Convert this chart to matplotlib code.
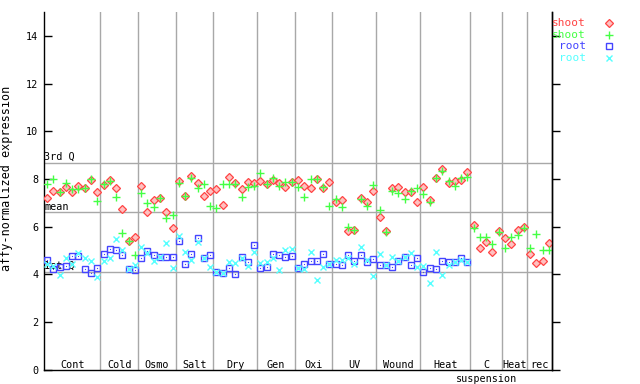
import numpy as np
import matplotlib
matplotlib.use("Agg")
import matplotlib.pyplot as plt
from matplotlib.lines import Line2D

nan = np.nan

groups = ["Cont", "Cold", "Osmo", "Salt", "Dry", "Gen", "Oxi", "UV", "Wound",
          "Heat", "C\nsuspension", "Heat", "rec"]
group_sizes = [9, 6, 6, 6, 7, 6, 6, 7, 7, 8, 5, 4, 4]

shoot_red = [7.19, 7.50, 7.44, 7.68, 7.44, 7.72, 7.61, 7.96, 7.44,
             7.75, 7.96, 7.61, 6.74, 5.40, 5.55,
             7.72, 6.60, 7.12, 7.19, 6.63, 5.93,
             7.92, 7.30, 8.14, 7.82, 7.30, 7.50,
             7.58, 6.91, 8.07, 7.82, 7.58, 7.86, 7.82,
             7.92, 7.78, 7.96, 7.82, 7.68, 7.86,
             7.96, 7.72, 7.64, 7.99, 7.61, 7.86,
             7.02, 7.12, 5.82, 5.86, 7.22, 7.02, 7.48,
             6.40, 5.82, 7.61, 7.65, 7.44, 7.46, 7.02,
             7.65, 7.12, 8.03, 8.40, 7.82, 7.92, 7.96, 8.28,
             6.07, 5.09, 5.34, 4.92, 5.82,
             5.51, 5.26, 5.86, 6.00,
             4.84, 4.46, 4.56, 5.30]

shoot_green = [7.78, 8.00, 7.44, 7.82, 7.58, 7.58, 7.61, 7.99, 7.08,
               7.78, 7.92, 7.26, 5.72, 5.40, 4.81,
               7.40, 6.98, 6.81, 7.19, 6.35, 6.49,
               7.82, 7.30, 8.06, 7.61, 7.78, 6.88,
               6.77, 7.78, 7.78, 7.78, 7.26, 7.68, 7.72,
               8.24, 7.78, 8.03, 7.72, 7.86, 7.86,
               7.68, 7.26, 7.99, 8.00, 7.68, 6.86,
               7.16, 6.81, 6.00, 5.86, 7.15, 6.87, 7.75,
               6.70, 5.76, 7.48, 7.40, 7.16, 7.50, 7.61,
               7.36, 7.04, 8.03, 8.34, 7.90, 7.72, 8.03, 8.07,
               5.96, 5.55, 5.55, 5.26, 5.76,
               5.12, 5.55, 5.65, 5.93,
               5.09, 5.68, 5.02, 5.02]

root_blue = [4.60, 4.22, 4.30, 4.35, 4.77, 4.77, 4.23, 4.04, 4.25,
             4.85, 5.05, 5.02, 4.81, 4.23, 4.18,
             4.67, 4.98, 4.81, 4.74, 4.74, 4.74,
             5.40, 4.43, 4.84, 5.51, 4.70, 4.81,
             4.11, 4.07, 4.25, 4.00, 4.71, 4.50, 5.23,
             4.25, 4.29, 4.84, 4.81, 4.71, 4.77,
             4.25, 4.43, 4.56, 4.56, 4.85, 4.43,
             4.43, 4.39, 4.81, 4.56, 4.81, 4.50, 4.64,
             4.39, 4.37, 4.32, 4.56, 4.74, 4.39, 4.67,
             4.08, 4.25, 4.21, 4.56, 4.50, 4.50, 4.67, 4.53,
             nan, nan, nan, nan, nan,
             nan, nan, nan, nan,
             nan, nan, nan, nan]

root_cyan = [4.45, 4.35, 3.97, 4.67, 4.42, 4.88, 4.67, 4.57, 3.90,
             4.57, 4.67, 5.47, 5.02, 4.22, 4.39,
             5.13, 4.88, 4.57, 4.74, 5.30, 4.25,
             5.61, 4.95, 4.60, 5.37, 4.68, 4.32,
             4.09, 4.04, 4.50, 4.47, 4.70, 4.33, 4.92,
             4.46, 4.53, 4.67, 4.16, 5.02, 5.06,
             4.25, 4.23, 4.92, 3.78, 4.30, 4.43,
             4.60, 4.60, 4.67, 4.43, 5.15, 4.60, 3.92,
             4.84, 4.39, 4.74, 4.56, 4.74, 4.88, 4.32,
             4.36, 3.62, 4.92, 3.97, 4.39, 4.50, 4.60, 4.50,
             nan, nan, nan, nan, nan,
             nan, nan, nan, nan,
             nan, nan, nan, nan]

q1, qmean, q3 = 4.11, 6.60, 8.68
yticks = [0, 2, 4, 6, 8, 10, 12, 14]

RED, GREEN, BLUE, CYAN = "#ff4444", "#44ff44", "#4444ff", "#55ffff"
GRID = "#a8a8a8"
FONT = "DejaVu Sans Mono"
FS = 7.3

fig = plt.figure(figsize=(6.4, 3.84), dpi=100)
ax = fig.add_axes([44/640, 1-369.6/384, 508/640, (369.6-12.2)/384])
n = len(shoot_red)
x = np.arange(n)

# group separators and labels
bounds = np.cumsum(group_sizes)
for b in bounds[:-1]:
    ax.axvline(b - 0.5, color=GRID, lw=1, zorder=1)
start = 0
for g, s in zip(groups, group_sizes):
    c = start + (s - 1) / 2
    for k, line in enumerate(g.split("\n")):
        ax.annotate(line, xy=(c, 0.40), xytext=(0, -10.3 * k), textcoords="offset points",
                    ha="center", va="top", fontsize=FS, family=FONT,
                    annotation_clip=False)
    start += s

# quartile lines
for val, lab in [(q3, "3rd Q"), (qmean, "mean"), (q1, "1st Q")]:
    ax.axhline(val, color=GRID, lw=1, zorder=1)
    ax.text(-0.45, val + 0.03, lab, ha="left", va="bottom", fontsize=FS, family=FONT)

red_style = dict(marker="D", ms=3.6, mfc="#ffc0c0", mec=RED, mew=0.9)
green_style = dict(marker="+", ms=5.2, mec=GREEN, mew=1.0)
blue_style = dict(marker="s", ms=3.7, mfc="none", mec=BLUE, mew=1.0)
cyan_style = dict(marker="x", ms=4.0, mec=CYAN, mew=1.0)

ax.plot(x, shoot_red, ls="none", zorder=3, **red_style)
ax.plot(x, shoot_green, ls="none", zorder=4, **green_style)
ax.plot(x, root_blue, ls="none", zorder=5, **blue_style)
ax.plot(x, root_blue, ls="none", marker="s", ms=0.8, mfc=BLUE, mec=BLUE, mew=0, zorder=5)
ax.plot(x, root_cyan, ls="none", zorder=6, **cyan_style)

ax.set_xlim(-0.5, n - 0.5)
ax.set_ylim(0, 15)
ax.set_xticks([])
ax.set_yticks(yticks)
ax.set_yticklabels([str(t) for t in yticks], family=FONT, fontsize=FS)
ax.tick_params(axis="y", direction="in", length=6, width=1, left=True, right=False, pad=4)
ax.spines["top"].set_visible(False)
for sp in ["left", "right", "bottom"]:
    ax.spines[sp].set_color("black")
    ax.spines[sp].set_linewidth(1)
ax.set_ylabel("affy-normalized expression", family=FONT, fontsize=8.5)
ax.yaxis.set_label_coords(-0.062, (369.6 - 178) / 357.4)

ax2 = ax.twinx()
ax2.set_ylim(0, 15)
ax2.set_yticks(yticks)
ax2.set_yticklabels([])
ax2.tick_params(axis="y", direction="out", length=6, width=1)
for sp in ["top", "left", "bottom"]:
    ax2.spines[sp].set_visible(False)
ax2.spines["right"].set_linewidth(1)

# legend
leg = [("shoot", RED, red_style), ("shoot", GREEN, green_style),
       ("root", BLUE, blue_style), ("root", CYAN, cyan_style)]
for k, (lab, col, mk) in enumerate(leg):
    yy = 1 - (23 + k * 11.7) / 384
    fig.text(586/640, yy, lab, ha="right", va="center", color=col, family=FONT, fontsize=8)
    fig.add_artist(Line2D([609/640], [yy], transform=fig.transFigure, ls="none", **mk))

fig.savefig("out.png", dpi=100)
